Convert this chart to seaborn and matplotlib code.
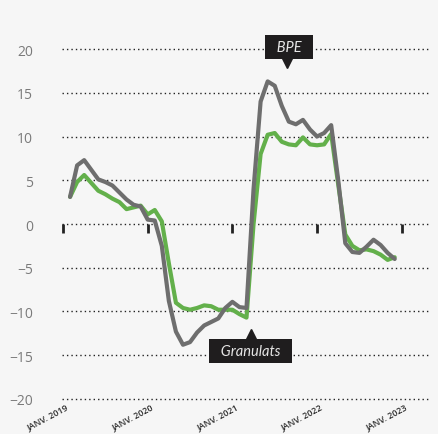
import pandas as pd
import matplotlib.pyplot as plt
import seaborn as sns
from matplotlib.transforms import ScaledTranslation

# mois : janv. 2019 = 0, donnees de fev. 2019 a dec. 2022
mois = list(range(1, 48))
bpe = [3.1, 6.7, 7.3, 6.2, 5.1, 4.8, 4.4, 3.6, 2.8, 2.2, 2.0, 0.5,
       0.4, -2.5, -8.8, -12.3, -13.8, -13.5, -12.4, -11.6, -11.2, -10.8, -9.6, -8.9,
       -9.5, -9.6, 4.0, 14.0, 16.3, 15.8, 13.5, 11.7, 11.4, 11.9, 10.8, 10.0,
       10.4, 11.3, 5.0, -2.2, -3.2, -3.3, -2.6, -1.8, -2.4, -3.3, -4.0]
granulats = [3.1, 4.8, 5.6, 4.7, 3.8, 3.4, 2.9, 2.5, 1.7, 1.9, 2.1, 1.1,
             1.6, 0.3, -4.5, -9.0, -9.6, -9.8, -9.6, -9.3, -9.4, -9.8, -9.8, -9.8,
             -10.3, -10.7, 0.0, 8.0, 10.2, 10.4, 9.4, 9.1, 9.0, 9.9, 9.1, 9.0,
             9.1, 10.3, 4.5, -1.2, -2.5, -3.0, -2.9, -3.1, -3.5, -4.1, -3.8]
annees = [0, 12, 24, 36, 48]
annees_labels = ['JANV. 2019', 'JANV. 2020', 'JANV. 2021', 'JANV. 2022', 'JANV. 2023']

df = pd.DataFrame({'mois': mois, 'BPE': bpe, 'Granulats': granulats})
df_long = df.melt('mois', var_name='serie', value_name='valeur')

sns.set_style('white')
plt.rcParams['font.family'] = ['Open Sans', 'DejaVu Sans']

fig = plt.figure(figsize=(4.38, 4.35), dpi=100, facecolor='#f6f6f6')
ax = fig.add_axes([0.1416, 0.0745, 0.8401, 0.8165])
ax.set_facecolor('none')

sns.lineplot(data=df_long, x='mois', y='valeur', hue='serie',
             hue_order=['Granulats', 'BPE'],
             palette={'Granulats': '#63b04b', 'BPE': '#6e6e6e'},
             linewidth=3, legend=False, ax=ax, zorder=3)

# petits reperes annuels sur l'axe 0
ax.vlines(annees, -1.0, 0, color='#222222', lw=2, zorder=2)

ax.set_xlim(-0.14, 52.0)
ax.set_ylim(-20.3, 20.3)
ax.set_yticks(range(-20, 21, 5))
ax.yaxis.grid(True, linestyle=(0, (1, 2.2)), color='#222222', lw=1.0)
ax.xaxis.grid(False)
for s in ax.spines.values():
    s.set_visible(False)
ax.set_xlabel('')
ax.set_ylabel('')

ax.tick_params(axis='y', length=0, pad=21, labelsize=10, labelcolor='#7a7a7a')
ax.set_xticks(annees)
ax.set_xticklabels(annees_labels, rotation=28, ha='right', va='top',
                   rotation_mode='anchor', fontsize=6.4, fontweight='semibold',
                   color='#2b2b2b')
ax.tick_params(axis='x', length=0, pad=0)
for lab in ax.get_xticklabels():
    lab.set_transform(lab.get_transform() + ScaledTranslation(0.03, 0.0, fig.dpi_scale_trans))

# etiquettes des series
box = dict(boxstyle='square,pad=0.35', facecolor='#1f1d1e', edgecolor='none')
ax.text(32.0, 20.2, '  BPE  ', ha='center', va='center', fontsize=10.5,
        style='italic', color='#e6e6e6', bbox=box,
        family=['Lato', 'DejaVu Sans'], zorder=5)
ax.plot(31.7, 18.4, marker='v', ms=7, color='#1f1d1e', zorder=5)
ax.text(26.6, -14.5, '  Granulats  ', ha='center', va='center', fontsize=10.5,
        style='italic', color='#e6e6e6', bbox=box,
        family=['Lato', 'DejaVu Sans'], zorder=5)
ax.plot(26.6, -12.6, marker='^', ms=7, color='#1f1d1e', zorder=5)

fig.savefig('out.png', dpi=100, facecolor=fig.get_facecolor())
